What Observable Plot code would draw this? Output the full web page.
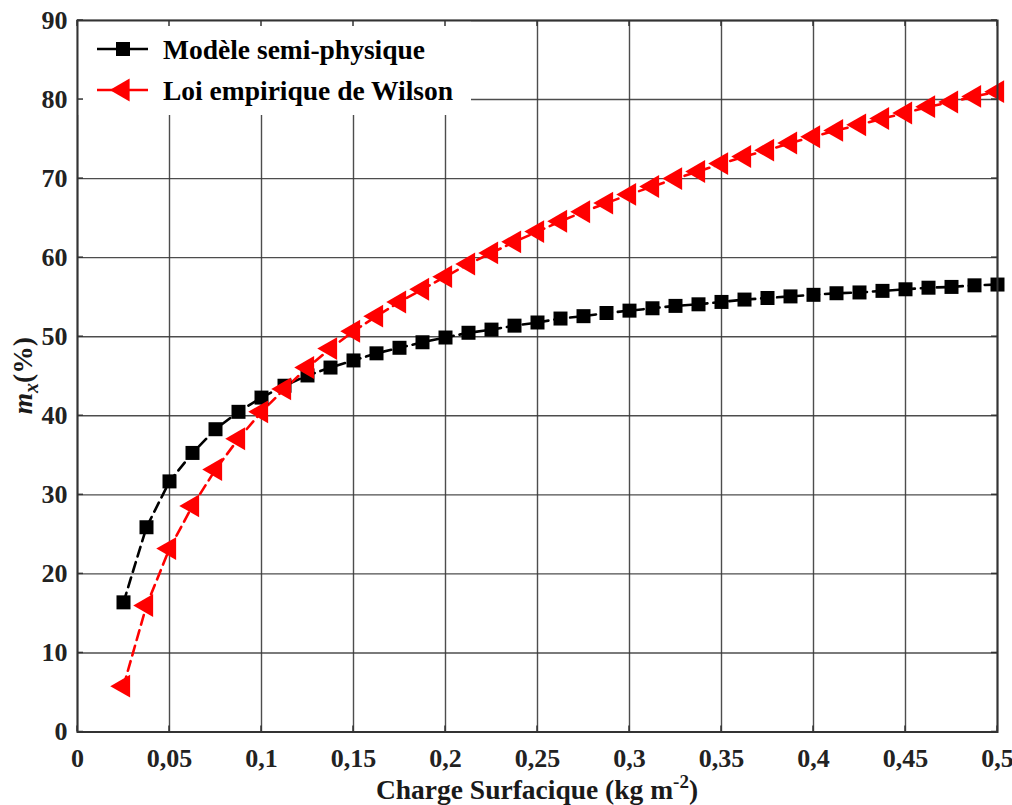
<!DOCTYPE html>
<html><head><meta charset="utf-8">
<script src="https://cdn.jsdelivr.net/npm/d3@7"></script>
<script src="https://cdn.jsdelivr.net/npm/@observablehq/plot@0.6"></script>
<style>
body{margin:0;background:#fff;}
#chart{width:1012px;height:805px;overflow:hidden;}
</style>
</head><body><div id="chart"></div>
<script>
// Charge surfacique (kg m-2)
const charge = [0.025,0.0375,0.05,0.0625,0.075,0.0875,0.1,0.1125,0.125,0.1375,0.15,0.1625,0.175,0.1875,0.2,0.2125,0.225,0.2375,0.25,0.2625,0.275,0.2875,0.3,0.3125,0.325,0.3375,0.35,0.3625,0.375,0.3875,0.4,0.4125,0.425,0.4375,0.45,0.4625,0.475,0.4875,0.5];
// Modèle semi-physique (%)
const semiPhysique = [16.4,25.9,31.7,35.3,38.3,40.5,42.3,43.8,45.1,46.1,47.0,47.9,48.6,49.3,49.9,50.5,50.9,51.4,51.8,52.3,52.6,53.0,53.3,53.6,53.9,54.1,54.4,54.7,54.9,55.1,55.3,55.5,55.6,55.8,56.0,56.2,56.3,56.5,56.6];
// Loi empirique de Wilson (%)
const wilson = [5.8,16.0,23.2,28.6,33.2,37.1,40.5,43.4,46.1,48.5,50.7,52.6,54.4,56.0,57.6,59.2,60.6,62.0,63.3,64.6,65.8,66.9,68.0,69.0,70.0,70.9,71.9,72.8,73.6,74.5,75.3,76.1,76.8,77.6,78.3,79.1,79.7,80.4,81.0];

const xTicks = [0,0.05,0.1,0.15,0.2,0.25,0.3,0.35,0.4,0.45,0.5];
const xTickLabels = ["0","0,05","0,1","0,15","0,2","0,25","0,3","0,35","0,4","0,45","0,5"];
const yTicks = [0,10,20,30,40,50,60,70,80,90];
const seriesNames = ["Modèle semi-physique","Loi empirique de Wilson"];
const seriesColors = ["#000000","#ff0000"];
const xLabelMain = "Charge Surfacique (kg m";
const xLabelSup = "-2";
const xLabelEnd = ")";
const yLabelMain = "m";
const yLabelSub = "x";
const yLabelEnd = "(%)";

const rows = charge.map((c, i) => ({x: c, semi: semiPhysique[i], wil: wilson[i]}));

const font = "'Liberation Serif','Times New Roman',Times,serif";
const gridStyle = {stroke: "#3a3a3a", strokeOpacity: 0.9, strokeWidth: 1.4};
const R_SQ = 7.9, R_TRI = 8.5;

const plot = Plot.plot({
  width: 1012, height: 805,
  marginLeft: 77, marginRight: 15, marginTop: 20, marginBottom: 73.5,
  style: {fontFamily: font, fontSize: "26px", fontWeight: "bold", color: "#222", background: "#fff"},
  x: {domain: [0, 0.5]},
  y: {domain: [0, 90]},
  marks: [
    Plot.gridX(xTicks, gridStyle),
    Plot.gridY(yTicks, gridStyle),
    Plot.line(rows, {x: "x", y: "semi", stroke: seriesColors[0], strokeWidth: 2.6, strokeDasharray: "10,6"}),
    Plot.line(rows, {x: "x", y: "wil", stroke: seriesColors[1], strokeWidth: 2.6, strokeDasharray: "10,6"}),
    Plot.dot(rows, {x: "x", y: "semi", symbol: "square", r: R_SQ, fill: seriesColors[0], stroke: "none"}),
    Plot.dot(rows, {x: "x", y: "wil", symbol: "triangle", rotate: -90, r: R_TRI, fill: seriesColors[1], stroke: "none"}),
    Plot.frame({stroke: "#333", strokeWidth: 2}),
    Plot.axisX(xTicks, {tickSize: 0, tickPadding: 17, tickFormat: d => xTickLabels[xTicks.indexOf(d)], label: null, fill: "#222"}),
    Plot.axisY(yTicks, {tickSize: 0, tickPadding: 10, label: null, fill: "#222"})
  ]
});

document.getElementById("chart").appendChild(plot);

const svg = d3.select(plot);
const sx = plot.scale("x"), sy = plot.scale("y");
const x0 = sx.apply(0), x1 = sx.apply(0.5), y0 = sy.apply(0), y1 = sy.apply(90);

// Legend (white box, drawn below the frame)
const frameNode = plot.querySelector('[aria-label="frame"]');
const leg = d3.create("svg:g").attr("aria-label", "legend");
leg.append("rect").attr("x", x0 + 1).attr("y", y1 + 1).attr("width", 393).attr("height", 94).attr("fill", "#fff");
const rowsY = [y1 + 29, y1 + 70];
const symbols = [
  d3.symbol(d3.symbolSquare, Math.PI * R_SQ * R_SQ),
  d3.symbol(d3.symbolTriangle, Math.PI * R_TRI * R_TRI)
];
seriesNames.forEach((name, i) => {
  const yy = rowsY[i];
  leg.append("line").attr("x1", x0 + 20).attr("x2", x0 + 71).attr("y1", yy).attr("y2", yy)
    .attr("stroke", seriesColors[i]).attr("stroke-width", 2.6);
  leg.append("path").attr("d", symbols[i]())
    .attr("transform", `translate(${x0 + 46},${yy}) rotate(${i === 1 ? -90 : 0})`)
    .attr("fill", seriesColors[i]);
  leg.append("text").attr("x", x0 + 86).attr("y", yy + 9.5).attr("text-anchor", "start")
    .attr("font-family", font).attr("font-size", 27.5).attr("font-weight", "bold").attr("fill", "#000")
    .text(name);
});
plot.insertBefore(leg.node(), frameNode);

// inward ticks on all four sides (drawn on top)
const tk = svg.append("g").attr("aria-label", "ticks").attr("stroke", "#333").attr("stroke-width", 1.5);
xTicks.forEach(t => {
  const px = sx.apply(t);
  tk.append("line").attr("x1", px).attr("x2", px).attr("y1", y1).attr("y2", y1 + 6);
  tk.append("line").attr("x1", px).attr("x2", px).attr("y1", y0).attr("y2", y0 - 6);
});
yTicks.forEach(t => {
  const py = sy.apply(t);
  tk.append("line").attr("x1", x0).attr("x2", x0 + 6).attr("y1", py).attr("y2", py);
  tk.append("line").attr("x1", x1).attr("x2", x1 - 6).attr("y1", py).attr("y2", py);
});

// Axis titles
const xl = svg.append("text").attr("x", (x0 + x1) / 2).attr("y", 799)
  .attr("text-anchor", "middle").attr("font-family", font).attr("font-size", 27.5)
  .attr("font-weight", "bold").attr("fill", "#1a1a1a");
xl.append("tspan").text(xLabelMain);
xl.append("tspan").attr("font-size", 19).attr("dy", -11).text(xLabelSup);
xl.append("tspan").attr("dy", 11).text(xLabelEnd);

const yl = svg.append("text").attr("transform", `translate(32,${(y0 + y1) / 2}) rotate(-90)`)
  .attr("text-anchor", "middle").attr("font-family", font).attr("font-size", 27.5)
  .attr("font-weight", "bold").attr("fill", "#1a1a1a");
yl.append("tspan").attr("font-style", "italic").text(yLabelMain);
yl.append("tspan").attr("font-style", "italic").attr("font-size", 20).attr("dy", 6).text(yLabelSub);
yl.append("tspan").attr("dy", -6).text(yLabelEnd);
</script>
</body></html>
